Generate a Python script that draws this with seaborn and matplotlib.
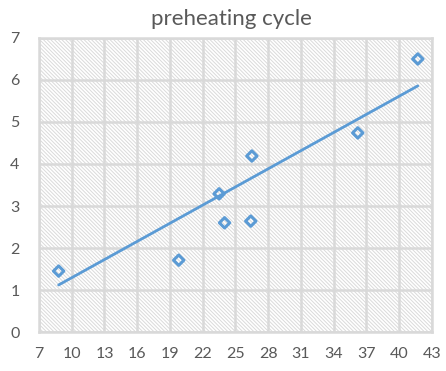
import matplotlib
matplotlib.use("Agg")
import matplotlib.pyplot as plt
from matplotlib.patches import Rectangle
import seaborn as sns
import pandas as pd

# measured preheating data
cycle_x = [8.8, 19.8, 23.5, 24.0, 26.5, 26.4, 36.2, 41.7]
cycle_y = [1.45, 1.71, 3.29, 2.60, 4.19, 2.64, 4.74, 6.50]

# linear trendline end points
trend_x = [8.8, 41.7]
trend_y = [1.12, 5.86]

x_ticks = [7, 10, 13, 16, 19, 22, 25, 28, 31, 34, 37, 40, 43]
y_ticks = [0, 1, 2, 3, 4, 5, 6, 7]

title = "preheating cycle"

sns.set_theme(style="white")
plt.rcParams["font.family"] = ["Lato", "DejaVu Sans"]
plt.rcParams["hatch.linewidth"] = 0.7
plt.rcParams["hatch.color"] = "#dadada"

blue = "#5b9bd5"
grid_c = "#d9d9d9"
text_c = "#595959"

fig = plt.figure(figsize=(4.46, 3.71), dpi=100)
ax = fig.add_axes([0.0874, 0.1051, 0.8812, 0.7925])

# hatched plot-area background
ax.add_patch(Rectangle((0, 0), 1, 1, transform=ax.transAxes, facecolor="white",
                       edgecolor="#dadada", hatch="\\" * 9, linewidth=0, zorder=0))

df = pd.DataFrame({"x": cycle_x, "y": cycle_y})
tdf = pd.DataFrame({"x": trend_x, "y": trend_y})

sns.lineplot(data=tdf, x="x", y="y", ax=ax, color=blue, linewidth=2, zorder=3)
sns.scatterplot(data=df, x="x", y="y", ax=ax, marker="D", s=28,
                facecolor="none", edgecolor=blue, linewidth=2.2, zorder=4)

ax.set_xlim(x_ticks[0], x_ticks[-1])
ax.set_ylim(y_ticks[0], y_ticks[-1])
ax.set_xticks(x_ticks)
ax.set_yticks(y_ticks)
ax.set_xlabel("")
ax.set_ylabel("")
ax.grid(True, color=grid_c, linewidth=1.8, zorder=1)
ax.set_axisbelow(True)
for s in ax.spines.values():
    s.set_color(grid_c)
    s.set_linewidth(1.8)
ax.tick_params(axis="both", length=0, labelsize=11.5, labelcolor=text_c)
ax.tick_params(axis="x", pad=11)
ax.tick_params(axis="y", pad=14)

fig.text(0.518, 0.922, title, ha="center", va="bottom", fontsize=16, color=text_c)

fig.savefig("out.png", dpi=100)
